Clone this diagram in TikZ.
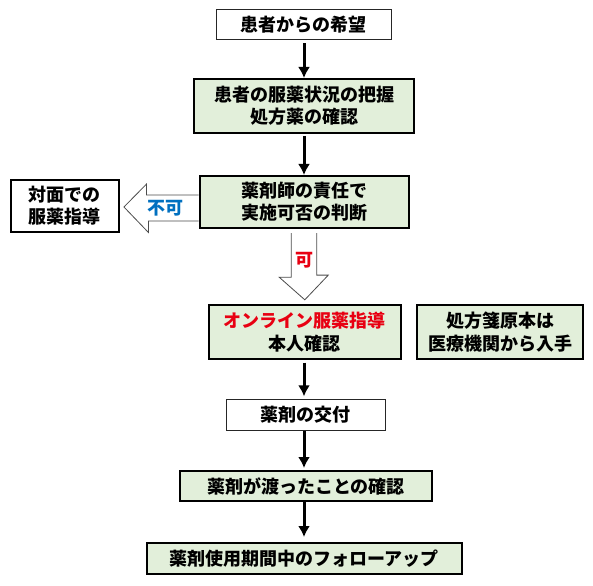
\documentclass[tikz,border=0pt]{standalone}
\usepackage{fontspec}
\usetikzlibrary{arrows.meta}
\newfontfamily\jp{Noto Sans CJK JP}
\definecolor{boxgreen}{RGB}{226,239,218}
\definecolor{okred}{RGB}{232,0,18}
\definecolor{ngblue}{RGB}{0,112,192}

\begin{document}
\begin{tikzpicture}[x=1pt,y=-1pt,
        font=\jp\bfseries\fontsize{18pt}{22.3pt}\selectfont,
        plain/.style={draw=black!85,line width=0.9pt,fill=white,align=center,inner sep=0pt},
        greenbox/.style={plain,draw=black,line width=2pt,fill=boxgreen},
        whitebox/.style={greenbox,fill=white},
        flow/.style={line width=3pt,-{Latex[length=11pt,width=12pt]}},
        hollow/.style={draw=black!70,line width=0.8pt,fill=white,line join=miter}]
    \useasboundingbox (0,0) rectangle (593,585);

    \node[plain,minimum width=175pt,minimum height=29.5pt] (wish) at (303.5,24.7) {患者からの希望};
    \node[greenbox,minimum width=220pt,minimum height=54pt] (grasp) at (304,106) {患者の服薬状況の把握\\処方薬の確認};
    \node[greenbox,minimum width=209.5pt,minimum height=52pt] (judge) at (304.3,202) {薬剤師の責任で\\実施可否の判断};
    \node[whitebox,minimum width=108.3pt,minimum height=52pt] (face) at (64.8,206) {対面での\\服薬指導};
    \node[greenbox,minimum width=192.3pt,minimum height=53.4pt] (online) at (304.8,332) {\textcolor{okred}{オンライン服薬指導}\\本人確認};
    \node[greenbox,minimum width=166pt,minimum height=54pt] (original) at (500,332) {処方箋原本は\\医療機関から入手};
    \node[plain,minimum width=159pt,minimum height=31.4pt] (deliver) at (305.5,415) {薬剤の交付};
    \node[greenbox,minimum width=252pt,minimum height=30pt] (check) at (306,486) {薬剤が渡ったことの確認};
    \node[greenbox,minimum width=315pt,minimum height=31pt] (follow) at (304,558.5) {薬剤使用期間中のフォローアップ};

    \draw[flow,shorten <=3.5pt] (wish.south -| 304,0) -- (grasp.north -| 304,0);
    \draw[flow,shorten <=2pt] (grasp.south -| 304,0) -- (judge.north -| 304,0);
    \draw[flow,shorten <=3pt,shorten >=2.5pt] (online.south -| 304,0) -- (deliver.north -| 304,0);
    \draw[flow,shorten >=2pt] (deliver.south -| 304,0) -- (check.north -| 304,0);
    \draw[flow,shorten >=5pt] (check.south -| 304,0) -- (follow.north -| 304,0);

    \draw[hollow] ([yshift=7pt]judge.west) -- ++(-52,0) -- ++(0,-11)
        -- ([xshift=4pt,yshift=-1pt]face.east) -- ++(24.5,25.5) -- ++(0,-11.5)
        -- ([yshift=-19pt]judge.west);
    \draw[hollow] ([xshift=-13pt,yshift=-4pt]judge.south) -- ++(0,44.3) -- ++(-12,0)
        -- ([yshift=4.5pt]online.north) -- ++(23.5,-24.7) -- ++(-11.5,0)
        -- ([xshift=12.5pt,yshift=-4pt]judge.south);
    \node[text=ngblue] (ng) at (165,208) {不可};
    \node[text=okred] (ok) at (304,260) {可};
\end{tikzpicture}
\end{document}
